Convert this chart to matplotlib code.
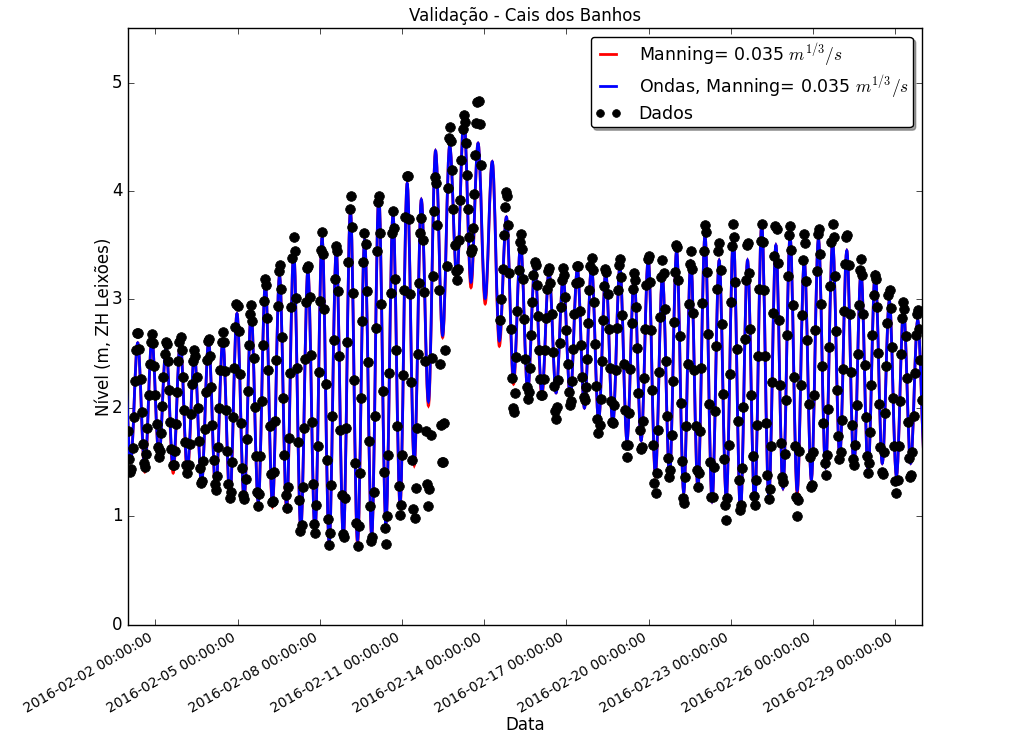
import datetime as dt
import numpy as np
import matplotlib
matplotlib.use("Agg")
import matplotlib.pyplot as plt
import matplotlib.dates as mdates
from matplotlib.path import Path
from matplotlib.patches import PathPatch
from matplotlib.lines import Line2D
from matplotlib.ticker import MultipleLocator

plt.style.use('classic')

nan = float('nan')

# ---------------- data ----------------
start = dt.datetime(2016, 2, 1, 0, 0)

# model: times (hours after start) and levels of high and low waters
high_hours = [-3.92, 8.50, 20.92, 33.34, 45.76, 58.18, 70.60, 83.02, 95.44, 107.86,
              120.28, 132.70, 145.12, 157.54, 169.96, 182.38, 194.80, 207.22, 219.64, 232.06,
              244.48, 256.90, 269.32, 281.74, 294.16, 306.58, 319.00, 331.42, 343.84, 356.26,
              368.68, 381.10, 393.52, 405.94, 418.36, 430.78, 443.20, 455.62, 468.04, 480.46,
              492.88, 505.30, 517.72, 530.14, 542.56, 554.98, 567.40, 579.82, 592.24, 604.66,
              617.08, 629.50, 641.92, 654.34, 666.76, 679.18, 691.60]
high_level = [2.60, 2.60, 2.63, 2.56, 2.60, 2.49, 2.61, 2.62, 2.87, 2.87,
              3.15, 3.22, 3.44, 3.27, 3.57, 3.45, 3.82, 3.55, 3.96, 3.78,
              4.07, 3.92, 4.37, 4.42, 4.68, 4.44, 4.27, 3.76, 3.50, 3.30,
              3.26, 3.20, 3.28, 3.30, 3.25, 3.30, 3.20, 3.38, 3.21, 3.45,
              3.35, 3.59, 3.36, 3.58, 3.36, 3.69, 3.50, 3.58, 3.36, 3.56,
              3.53, 3.45, 3.25, 3.25, 2.99, 2.90, 2.81]
low_hours = [2.29, 14.71, 27.13, 39.55, 51.97, 64.39, 76.81, 89.23, 101.65, 114.07,
             126.49, 138.91, 151.33, 163.75, 176.17, 188.59, 201.01, 213.43, 225.85, 238.27,
             250.69, 263.11, 275.53, 287.95, 300.37, 312.79, 325.21, 337.63, 350.05, 362.47,
             374.89, 387.31, 399.73, 412.15, 424.57, 436.99, 449.41, 461.83, 474.25, 486.67,
             499.09, 511.51, 523.93, 536.35, 548.77, 561.19, 573.61, 586.03, 598.45, 610.87,
             623.29, 635.71, 648.13, 660.55, 672.97, 685.39, 697.81]
low_level = [1.50, 1.45, 1.55, 1.45, 1.45, 1.30, 1.25, 1.18, 1.17, 1.13,
             1.12, 1.10, 0.88, 0.85, 0.75, 0.80, 0.78, 0.82, 0.93, 1.12,
             1.50, 2.06, 2.67, 3.21, 3.16, 3.01, 2.62, 2.27, 2.16, 2.14,
             2.14, 2.10, 2.00, 1.88, 1.85, 1.70, 1.70, 1.40, 1.37, 1.22,
             1.27, 1.14, 1.17, 1.04, 1.12, 1.18, 1.26, 1.24, 1.34, 1.45,
             1.55, 1.46, 1.43, 1.49, 1.37, 1.49, 1.50]
# Manning-only run: low waters slightly lower than the wave run
manning_low_drop = [0, 0.04, 0, 0.05, 0.05, 0, 0.03, 0.04, 0.03, 0,
                    0.03, 0.05, 0, 0, 0, 0, 0.04, 0, 0, 0.03,
                    0.03, 0.04, 0.02, 0.02, 0.05, 0.05, 0.05, 0.05, 0, 0.04,
                    0, 0, 0, 0, 0, 0, 0, 0.03, 0, 0,
                    0.02, 0, 0, 0, 0, 0, 0, 0.03, 0, 0,
                    0, 0, 0, 0, 0, 0, 0]

# observed levels, hourly from 2016-02-01 00:00 (one row per day)
dados = [
    1.79, 1.53, 1.41, 1.44, 1.63, 1.92, 2.25, 2.53, 2.69, 2.69, 2.54, 2.27, 1.96, 1.67, 1.49, 1.46, 1.58, 1.82, 2.12, 2.41, 2.61, 2.68, 2.60, 2.39,
    2.12, 1.85, 1.64, 1.55, 1.60, 1.77, 2.02, 2.29, 2.50, 2.61, 2.59, 2.43, 2.17, 1.87, 1.62, 1.47, 1.47, 1.60, 1.85, 2.15, 2.43, 2.61, 2.65, 2.53,
    2.29, 1.98, 1.69, 1.47, 1.40, 1.47, 1.67, 1.94, 2.22, 2.43, 2.53, 2.48, 2.29, 2.00, 1.70, 1.45, 1.31, 1.33, 1.51, 1.81, 2.15, 2.44, 2.62, 2.64,
    2.48, 2.19, 1.84, 1.52, 1.30, 1.24, 1.37, 1.64, 2.00, 2.35, 2.61, 2.70, 2.61, 2.34, 1.98, 1.60, 1.30, 1.17, 1.23, 1.50, 1.92, 2.37, 2.75, 2.96,
    2.94, 2.71, 2.31, 1.86, 1.45, 1.20, 1.16, 1.35, 1.71, 2.16, 2.58, 2.87, 2.95, 2.80, 2.46, 2.01, 1.56, 1.23, 1.10, 1.21, 1.56, 2.06, 2.58, 2.99,
    3.19, 3.13, 2.83, 2.35, 1.83, 1.39, 1.13, 1.14, 1.41, 1.88, 2.44, 2.94, 3.26, 3.32, 3.10, 2.65, 2.09, 1.57, 1.20, 1.08, 1.27, 1.72, 2.32, 2.93,
    3.38, 3.58, 3.45, 3.01, 2.37, 1.69, 1.15, 0.87, 0.92, 1.27, 1.82, 2.45, 2.98, 3.29, 3.31, 3.02, 2.49, 1.87, 1.30, 0.93, 0.85, 1.11, 1.65, 2.33,
    2.99, 3.46, 3.62, 3.42, 2.91, 2.22, 1.52, 0.98, 0.74, 0.85, 1.29, 1.93, 2.63, 3.19, 3.49, 3.45, 3.08, 2.48, 1.80, 1.20, 0.84, 0.81, 1.17, 1.82,
    2.61, 3.35, 3.83, 3.95, 3.67, 3.06, 2.26, 1.49, 0.94, 0.73, 0.91, 1.40, 2.09, 2.80, 3.35, 3.61, 3.51, 3.08, 2.42, 1.70, 1.10, 0.77, 0.81, 1.23,
    1.93, 2.74, 3.45, 3.90, 3.95, 3.61, 2.96, 2.16, 1.41, 0.89, 0.75, 1.00, 1.57, 2.32, 3.06, 3.61, 3.82, 3.66, 3.19, 2.53, 1.83, 1.28, 1.01, 1.11,
    1.57, 2.30, 3.09, 3.76, 4.14, 4.14, 3.74, 3.05, 2.24, 1.52, 1.07, 0.99, 1.26, 1.82, 2.50, 3.15, 3.61, 3.75, 3.55, 3.07, 2.43, 1.79, 1.30, 1.10,
    1.25, 1.75, 2.46, 3.22, 3.82, 4.13, 4.07, 3.69, 3.09, 2.41, 1.84, 1.50, 1.50, 1.86, 2.53, 3.31, 4.03, 4.49, 4.59, 4.46, 4.19, 3.83, 3.50, 3.26,
    3.18, 3.28, 3.55, 3.92, 4.29, 4.57, 4.70, 4.64, 4.44, 4.15, 3.83, 3.58, 3.44, 3.47, 3.66, 3.97, 4.33, 4.63, 4.82, 4.83, 4.62, 4.24, nan, nan,
    nan, nan, nan, nan, nan, nan, nan, nan, nan, nan, nan, nan, nan, nan, 2.81, 3.00, 3.28, 3.59, 3.85, 3.99, 3.95, 3.69, 3.24, 2.73,
    2.28, 2.00, 1.96, 2.14, 2.47, 2.89, 3.27, 3.53, 3.60, 3.47, 3.19, 2.82, 2.45, 2.19, 2.08, 2.15, 2.37, 2.67, 2.98, 3.23, 3.35, 3.32, 3.13, 2.85,
    2.53, 2.27, 2.12, 2.12, 2.27, 2.53, 2.83, 3.10, 3.26, 3.29, 3.15, 2.87, 2.52, 2.20, 1.97, 1.90, 2.01, 2.26, 2.60, 2.93, 3.18, 3.29, 3.23, 3.02,
    2.72, 2.41, 2.15, 2.03, 2.06, 2.25, 2.54, 2.87, 3.15, 3.31, 3.31, 3.16, 2.89, 2.58, 2.29, 2.10, 2.07, 2.19, 2.45, 2.78, 3.09, 3.31, 3.38, 3.27,
    2.98, 2.59, 2.20, 1.90, 1.77, 1.84, 2.08, 2.43, 2.81, 3.12, 3.28, 3.25, 3.05, 2.73, 2.37, 2.06, 1.87, 1.86, 2.03, 2.35, 2.74, 3.09, 3.32, 3.37,
    3.21, 2.86, 2.41, 1.98, 1.66, 1.55, 1.66, 1.95, 2.36, 2.78, 3.10, 3.24, 3.18, 2.93, 2.55, 2.14, 1.80, 1.62, 1.64, 1.88, 2.28, 2.73, 3.13, 3.37,
    3.40, 3.16, 2.72, 2.17, 1.66, 1.31, 1.22, 1.40, 1.80, 2.33, 2.84, 3.21, 3.36, 3.24, 2.91, 2.43, 1.93, 1.54, 1.36, 1.43, 1.75, 2.25, 2.79, 3.25,
    3.50, 3.48, 3.18, 2.66, 2.05, 1.51, 1.17, 1.12, 1.36, 1.83, 2.41, 2.96, 3.33, 3.45, 3.28, 2.88, 2.35, 1.83, 1.43, 1.27, 1.40, 1.79, 2.37, 2.97,
    3.45, 3.69, 3.62, 3.25, 2.68, 2.04, 1.50, 1.18, 1.18, 1.46, 1.97, 2.57, 3.10, 3.45, 3.52, 3.27, 2.77, 2.13, 1.53, 1.11, 0.97, 1.17, 1.66, 2.31,
    2.98, 3.49, 3.70, 3.58, 3.16, 2.54, 1.88, 1.34, 1.06, 1.11, 1.45, 2.01, 2.64, 3.18, 3.50, 3.52, 3.24, 2.73, 2.12, 1.56, 1.19, 1.11, 1.34, 1.84,
    2.48, 3.10, 3.54, 3.70, 3.53, 3.09, 2.48, 1.86, 1.38, 1.16, 1.25, 1.65, 2.24, 2.88, 3.40, 3.68, 3.65, 3.34, 2.81, 2.21, 1.68, 1.36, 1.32, 1.58,
    2.07, 2.67, 3.22, 3.59, 3.68, 3.46, 2.95, 2.29, 1.65, 1.18, 1.00, 1.15, 1.60, 2.21, 2.86, 3.36, 3.60, 3.52, 3.17, 2.63, 2.04, 1.55, 1.27, 1.29,
    1.59, 2.12, 2.72, 3.26, 3.60, 3.65, 3.42, 2.96, 2.39, 1.86, 1.49, 1.38, 1.57, 1.99, 2.56, 3.12, 3.53, 3.70, 3.58, 3.22, 2.71, 2.17, 1.74, 1.53,
    1.59, 1.89, 2.36, 2.89, 3.33, 3.58, 3.59, 3.32, 2.87, 2.33, 1.84, 1.53, 1.47, 1.66, 2.03, 2.50, 2.95, 3.27, 3.37, 3.23, 2.87, 2.40, 1.92, 1.56,
    1.40, 1.49, 1.78, 2.21, 2.67, 3.04, 3.23, 3.19, 2.93, 2.51, 2.04, 1.64, 1.41, 1.39, 1.59, 1.95, 2.39, 2.78, 3.04, 3.09, 2.92, 2.56, 2.09, 1.65,
    1.33, 1.22, 1.34, 1.65, 2.06, 2.50, 2.83, 2.98, 2.91, 2.66, 2.28, 1.87, 1.54, 1.36, 1.38, 1.59, 1.93, 2.32, 2.67, 2.87, 2.90, 2.73, 2.44, 2.07,
]

title = 'Validação - Cais dos Banhos'
label_manning = 'Manning= 0.035 $m^{1/3}/s$'
label_ondas = 'Ondas, Manning= 0.035 $m^{1/3}/s$'
label_dados = 'Dados'
ylabel = 'Nível (m, ZH Leixões)'
xlabel = 'Data'
tick_days = list(range(2, 30, 3))


# ---------------- drawing ----------------
def tide_path(t_hours, levels, t0):
    """Smooth tidal curve: cubic Bezier between successive high/low waters
    with horizontal tangents at each extreme."""
    order = np.argsort(t_hours)
    x = t0 + np.asarray(t_hours, float)[order] / 24.0
    y = np.asarray(levels, float)[order]
    k = 0.364
    verts = [(x[0], y[0])]
    codes = [Path.MOVETO]
    for i in range(len(x) - 1):
        dx = x[i + 1] - x[i]
        verts += [(x[i] + k * dx, y[i]), (x[i + 1] - k * dx, y[i + 1]), (x[i + 1], y[i + 1])]
        codes += [Path.CURVE4] * 3
    return Path(verts, codes)


fig = plt.figure(figsize=(10.24, 7.44), dpi=100, facecolor='white')
ax = fig.add_axes([0.125, 0.16, 0.775, 0.802])
ax.set_facecolor('white')

t0 = mdates.date2num(start)
times = np.datetime64('2016-02-01T00:00') + np.arange(len(dados)) * np.timedelta64(1, 'h')

manning_low = [lv - d for lv, d in zip(low_level, manning_low_drop)]
all_hours = high_hours + low_hours

p_red = PathPatch(tide_path(all_hours, high_level + manning_low, t0),
                  facecolor='none', edgecolor='r', lw=2, zorder=2)
p_blue = PathPatch(tide_path(all_hours, high_level + low_level, t0),
                   facecolor='none', edgecolor='b', lw=2, zorder=3)
ax.add_patch(p_red)
ax.add_patch(p_blue)

dots, = ax.plot(times, dados, 'ko', markersize=7, zorder=4, label=label_dados)

ax.set_xlim(times[0], times[-1])
ax.set_ylim(0, 5.5)
ax.yaxis.set_major_locator(MultipleLocator(1))
ax.xaxis.set_major_locator(mdates.DayLocator(bymonthday=tick_days))
ax.xaxis.set_major_formatter(mdates.DateFormatter('%Y-%m-%d %H:%M:%S'))
ax.tick_params(axis='x', labelsize=10)
ax.tick_params(axis='y', labelsize=12)
for lab in ax.get_xticklabels():
    lab.set_rotation(30)
    lab.set_ha('right')

ax.set_title(title, fontsize=12)
ax.set_ylabel(ylabel, fontsize=12, labelpad=-1)
ax.set_xlabel(xlabel, fontsize=12, labelpad=0)

handles = [Line2D([], [], color='r', lw=2), Line2D([], [], color='b', lw=2), dots]
ax.legend(handles, [label_manning, label_ondas, label_dados], loc='upper right',
          fontsize=12.5, numpoints=2, fancybox=True, shadow=True, markerscale=0.8,
          handlelength=1.5, handletextpad=1.0, labelspacing=0.25, borderpad=0.25)

fig.savefig('out.png', dpi=100, facecolor='white')
